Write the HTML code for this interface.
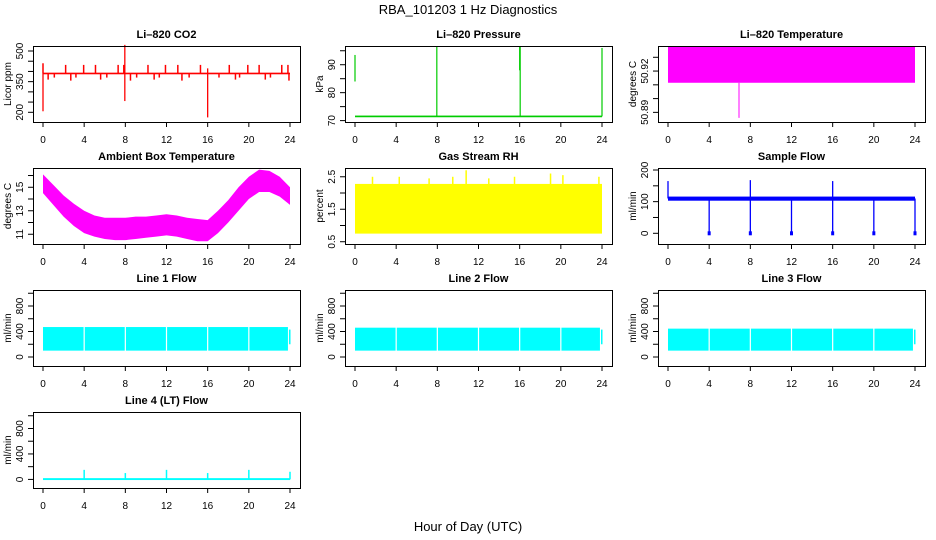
<!DOCTYPE html>
<html><head><meta charset="utf-8"><style>
html,body{margin:0;padding:0;background:#fff;}
svg{display:block;font-family:"Liberation Sans",Helvetica,sans-serif;}
</style></head><body>
<svg id="c" width="936" height="540" xmlns="http://www.w3.org/2000/svg">
<text x="468" y="14" font-size="13" text-anchor="middle">RBA_101203  1 Hz Diagnostics</text>
<text x="468" y="531" font-size="13" text-anchor="middle">Hour of Day (UTC)</text>
</svg>
<script>
// ---- data ----
const xTicks = [0,4,8,12,16,20,24];
// CO2
const co2Base = [386, 394];
const co2UpHours = [0,2.2,3.95,5.1,7.3,7.85,10.2,11.9,13.1,15.3,18.1,19.9,21.0,23.2,23.8];
const co2UpVals = [440,432,432,432,432,432,432,432,432,432,432,432,432,432,432];
const co2DnHours = [0.5,1.1,2.7,3.2,5.6,6.2,8.5,9.1,10.8,11.3,13.5,14.2,17.1,18.7,19.1,21.6,22.1,23.9];
const co2DnVals = [360,370,355,370,360,370,355,370,360,370,355,370,370,360,370,360,370,355];
const co2BigHours = [0,7.95,7.95,16,16];
const co2BigVals = [205,530,255,175,415];
// Pressure
const presBase = [71.2, 71.8];
const presSpikeHours = [0,7.95,16,16.05,24];
const presSpikeLo = [84,71.5,88,71.5,71.5];
const presSpikeHi = [93.5,96.5,96.5,96.5,96];
// Li-820 temperature
const tempLo = 50.9115, tempHi = 50.9375;
const tempSpikeHours = [6.9];
const tempSpikeVals = [50.886];
// Ambient
const ambHours = [0,1,2,3,4,5,6,7,8,9,10,11,12,13,14,15,16,17,18,19,20,21,22,23,24];
const ambHi = [16.1,15.2,14.3,13.6,13.0,12.6,12.4,12.4,12.4,12.5,12.5,12.6,12.7,12.6,12.4,12.3,12.2,13.0,13.9,15.0,15.9,16.5,16.4,15.9,15.0];
const ambLo = [14.5,13.5,12.5,11.7,11.1,10.8,10.6,10.5,10.5,10.6,10.7,10.8,10.9,10.8,10.6,10.4,10.4,11.1,12.0,13.0,14.0,14.6,14.6,14.2,13.5];
// RH
const rhBand = [0.75, 2.28];
const rhSpikeHours = [1.7,4.3,7.2,9.5,10.8,13,15.5,19,20.2,23.7];
const rhSpikeVals = [2.5,2.5,2.45,2.5,2.7,2.45,2.5,2.6,2.55,2.5];
// Sample flow
const sfBand = [103, 116];
const sfDipHours = [4,8,12,16,20,24];
const sfUpHours = [0,8,16];
const sfUpVals = [165,168,165];
// Line flows
const l1Band = [100,470], l2Band = [100,460], l3Band = [100,445];
const flowGapHours = [4,8,12,16,20];
// Line 4
const l4Band = [-10, 20];
const l4SpikeHours = [4,8,12,16,20,24];
const l4SpikeVals = [150,100,150,100,150,120];

// ---- layout ----
const NS = "http://www.w3.org/2000/svg";
const svg = document.getElementById('c');
const colL = [33,345,658], rowT = [46,168,290,412], W = 267, H = 76;
function mk(tag, a, parent){ const e=document.createElementNS(NS,tag); for(const k in a) e.setAttribute(k,a[k]); (parent||svg).appendChild(e); return e; }

function panel(col,row,title,ylab,usr,yticks,ylabels,nm){
  const L=colL[col], T=rowT[row], B=T+H, R=L+W;
  const g = mk('g',{});
  
  
  const x = h => L+10+h/24*(W-20);
  const y = v => B-(v-usr[0])/(usr[1]-usr[0])*H;
  const t = mk('text',{x:L+W/2,y:T-8,'font-size':11,'font-weight':'bold','text-anchor':'middle'},g);
  t.textContent = title;
  
  
  const yl = mk('text',{transform:`translate(${L-22},${(T+B)/2}) rotate(-90)`,'font-size':10,'text-anchor':'middle'},g);
  yl.textContent = ylab;
  
  
  const xa = mk('g',{stroke:'#000','stroke-width':1},g);
  
  
  xTicks.forEach(h=>{
    mk('line',{x1:x(h),x2:x(h),y1:B,y2:B+5},xa);
    const lt = mk('text',{x:x(h),y:B+21,'font-size':10,'text-anchor':'middle',stroke:'none'},xa);
    lt.textContent = h;
  });
  const ya = mk('g',{stroke:'#000','stroke-width':1},g);
  
  
  yticks.forEach(v=>{ mk('line',{x1:L-5,x2:L,y1:y(v),y2:y(v)},ya); });
  ylabels.forEach(v=>{
    const lt = mk('text',{transform:`translate(${L-10},${y(v)}) rotate(-90)`,'font-size':10,'text-anchor':'middle',stroke:'none'},ya);
    lt.textContent = v;
  });
  const d = mk('g',{},g);
  
  
  return {g,d,x,y,L,T,B,R,close:()=>{ const r=mk('rect',{x:L+0.5,y:T+0.5,width:W,height:H,fill:'none',stroke:'#000'},g);   }};
}
function band(p,h0,h1,lo,hi,col){ mk('rect',{x:p.x(h0),y:p.y(hi),width:p.x(h1)-p.x(h0),height:p.y(lo)-p.y(hi),fill:col},p.d); }
function vline(p,h,v0,v1,col,w){ mk('line',{x1:p.x(h),x2:p.x(h),y1:p.y(v0),y2:p.y(v1),stroke:col,'stroke-width':w||1.3},p.d); }

// CO2
let p = panel(0,0,'Li\u2013820 CO2','Licor ppm',[152.5,524.5],[200,250,300,350,400,450,500],[200,350,500],'co2');
band(p,0,24,co2Base[0],co2Base[1],'#f00');
co2UpHours.forEach((h,i)=>vline(p,h,390,co2UpVals[i],'#f00',1.5));
co2DnHours.forEach((h,i)=>vline(p,h,390,co2DnVals[i],'#f00',1.5));
co2BigHours.forEach((h,i)=>vline(p,h,390,co2BigVals[i],'#f00',1.3));
p.close();
// Pressure
p = panel(1,0,'Li\u2013820 Pressure','kPa',[69.5,96.7],[70,75,80,85,90,95],[70,80,90],'pressure');
band(p,0,24,presBase[0],presBase[1],'#0c0');
presSpikeHours.forEach((h,i)=>vline(p,h,presSpikeLo[i],presSpikeHi[i],'#0c0',1.2));
p.close();
// Temp
p = panel(2,0,'Li\u2013820 Temperature','degrees C',[50.883,50.9382],[50.89,50.90,50.91,50.92,50.93],[50.89,50.92],'li820-temperature');
band(p,0,24,tempLo,tempHi,'#f0f');
tempSpikeHours.forEach((h,i)=>vline(p,h,tempLo,tempSpikeVals[i],'#f0f',1));
p.close();
// Ambient
p = panel(0,1,'Ambient Box Temperature','degrees C',[10.17,16.64],[11,12,13,14,15,16],[11,13,15],'ambient-temperature');
{ let pts = ambHours.map((h,i)=>p.x(h)+','+p.y(ambHi[i]));
  for(let i=ambHours.length-1;i>=0;i--) pts.push(p.x(ambHours[i])+','+p.y(ambLo[i]));
  mk('polygon',{points:pts.join(' '),fill:'#f0f'},p.d); }
p.close();
// RH
p = panel(1,1,'Gas Stream RH','percent',[0.43,2.77],[0.5,1,1.5,2,2.5],[0.5,1.5,2.5],'gas-stream-rh');
band(p,0,24,rhBand[0],rhBand[1],'#ff0');
rhSpikeHours.forEach((h,i)=>vline(p,h,2,rhSpikeVals[i],'#ff0',1.5));
p.close();
// Sample flow
p = panel(2,1,'Sample Flow','ml/min',[-33.8,206.3],[0,50,100,150,200],[0,100,200],'sample-flow');
band(p,0,24,sfBand[0],sfBand[1],'#00f');
sfDipHours.forEach(h=>{ vline(p,h,110,0,'#00f',1.3); mk('rect',{x:p.x(h)-1.5,y:p.y(0)-2,width:3,height:4,fill:'#00f'},p.d); });
sfUpHours.forEach((h,i)=>vline(p,h,110,sfUpVals[i],'#00f',1.3));
p.close();
// Line flows
const flowTicks=[0,200,400,600,800,1000], flowLabels=[0,400,800];
[[0,'Line 1 Flow',l1Band,'line1-flow'],[1,'Line 2 Flow',l2Band,'line2-flow'],[2,'Line 3 Flow',l3Band,'line3-flow']].forEach(([c,t,bd,nm])=>{
  const q = panel(c,2,t,'ml/min',[-141,1051],flowTicks,flowLabels,nm);
  band(q,0,23.8,bd[0],bd[1],'#0ff');
  band(q,23.9,24.05,200,430,'#0ff');
  flowGapHours.forEach(h=>mk('line',{x1:q.x(h),x2:q.x(h),y1:q.y(bd[1]+10),y2:q.y(bd[0]-10),stroke:'#fff','stroke-width':1.2},q.d));
  q.close();
});
// Line 4
p = panel(0,3,'Line 4 (LT) Flow','ml/min',[-135,1059],flowTicks,flowLabels,'line4-flow');
band(p,0,24,l4Band[0],l4Band[1],'#0ff');
l4SpikeHours.forEach((h,i)=>vline(p,h,0,l4SpikeVals[i],'#0ff',1.5));
p.close();
</script>
</body></html>
